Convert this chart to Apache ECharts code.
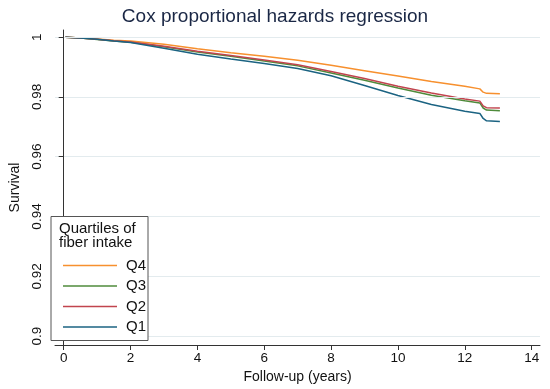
<!DOCTYPE html>
<html>
<head>
<meta charset="utf-8">
<script src="https://cdn.jsdelivr.net/npm/echarts@6/dist/echarts.min.js"></script>
<style>
html,body{margin:0;padding:0;background:#fff;}
#chart{width:550px;height:389px;}
</style>
</head>
<body>
<div id="chart"></div>
<script>
const times = [0.05, 0.5, 1, 1.5, 2, 3, 4, 5, 6, 7, 8, 9, 10, 11, 12, 12.45, 12.55, 12.65, 13.05];
const q4 = [1.0000, 0.9997, 0.9994, 0.9990, 0.9987, 0.9976, 0.9961, 0.9948, 0.9936, 0.9923, 0.9906, 0.9888, 0.9870, 0.9852, 0.9836, 0.9827, 0.9816, 0.9812, 0.9811];
const q3 = [1.0000, 0.9997, 0.9992, 0.9987, 0.9983, 0.9968, 0.9950, 0.9936, 0.9920, 0.9904, 0.9880, 0.9856, 0.9830, 0.9806, 0.9787, 0.9780, 0.9763, 0.9756, 0.9754];
const q2 = [1.0000, 0.9997, 0.9993, 0.9988, 0.9984, 0.9970, 0.9953, 0.9939, 0.9924, 0.9908, 0.9885, 0.9862, 0.9836, 0.9813, 0.9793, 0.9786, 0.9770, 0.9764, 0.9763];
const q1 = [1.0000, 0.9997, 0.9993, 0.9987, 0.9982, 0.9963, 0.9943, 0.9927, 0.9912, 0.9895, 0.9871, 0.9838, 0.9805, 0.9775, 0.9752, 0.9745, 0.9728, 0.9720, 0.9718];
const xTicks = [0, 2, 4, 6, 8, 10, 12, 14];
const yTicks = [0.9, 0.92, 0.94, 0.96, 0.98, 1];
const seriesNames = ['Q4', 'Q3', 'Q2', 'Q1'];
const seriesValues = [q4, q3, q2, q1];
const colors = ['#f7902e', '#4f8b3b', '#c1444e', '#1b6382'];

const FONT = 'Liberation Sans, Arial, sans-serif';
const chart = echarts.init(document.getElementById('chart'), null, {renderer: 'canvas'});

const series = seriesValues.map((vals, i) => ({
  name: seriesNames[i],
  type: 'line',
  data: times.map((t, j) => [t, vals[j]]),
  showSymbol: false,
  symbol: 'none',
  lineStyle: {width: 1.5, color: colors[i]},
  itemStyle: {color: colors[i]},
  z: 3,
  animation: false
}));
// grid lines
series.push({
  type: 'line',
  data: [],
  silent: true,
  markLine: {
    silent: true,
    symbol: 'none',
    label: {show: false},
    lineStyle: {color: '#e3ebee', width: 1, type: 'solid'},
    data: yTicks.map(v => ({yAxis: v}))
  },
  z: 1,
  animation: false
});

chart.setOption({
  backgroundColor: '#fff',
  animation: false,
  color: colors,
  title: {
    text: 'Cox proportional hazards regression',
    left: 'center',
    top: 2,
    textStyle: {fontFamily: FONT, fontSize: 19, fontWeight: 'normal', color: '#1a2745'}
  },
  grid: {left: 45, right: 10, top: 30, bottom: 44, containLabel: false},
  xAxis: {
    type: 'value',
    min: -0.26,
    max: 14.25,
    z: 10,
    name: 'Follow-up (years)',
    nameLocation: 'middle',
    nameGap: 22,
    nameTextStyle: {fontFamily: FONT, fontSize: 14, color: '#111'},
    axisLine: {show: true, lineStyle: {color: '#333', width: 1}},
    axisTick: {show: true, length: 5, lineStyle: {color: '#333'}, customValues: xTicks},
    axisLabel: {fontFamily: FONT, fontSize: 13.5, color: '#111', margin: 6, customValues: xTicks},
    splitLine: {show: false}
  },
  yAxis: {
    type: 'value',
    min: 0.897,
    max: 1.0024,
    z: 10,
    name: 'Survival',
    nameLocation: 'middle',
    nameGap: 33,
    nameTextStyle: {fontFamily: FONT, fontSize: 14, color: '#111'},
    axisLine: {show: true, lineStyle: {color: '#333', width: 1}},
    axisTick: {show: true, length: 5, lineStyle: {color: '#333'}, customValues: yTicks},
    axisLabel: {fontFamily: FONT, fontSize: 13.5, color: '#111', margin: 11, rotate: 90,
      customValues: yTicks, formatter: v => String(Math.round(v * 100) / 100)},
    splitLine: {show: false}
  },
  legend: {
    data: seriesNames,
    orient: 'vertical',
    left: 58,
    top: 253,
    z: 60,
    itemWidth: 54,
    itemHeight: 1.5,
    itemGap: 5.5,
    icon: 'rect',
    textStyle: {fontFamily: FONT, fontSize: 15, color: '#111', padding: [0, 0, 0, 4]},
    selectedMode: false
  },
  graphic: [
    {type: 'rect', left: 50.5, top: 216, z: 50,
      shape: {width: 97, height: 124},
      style: {fill: '#fff', stroke: '#555', lineWidth: 1}},
    {type: 'text', left: 59, top: 221, z: 51,
      style: {text: 'Quartiles of\nfiber intake', fontFamily: FONT, fontSize: 15, fill: '#111', lineHeight: 14.5}}
  ],
  series: series
});
</script>
</body>
</html>
